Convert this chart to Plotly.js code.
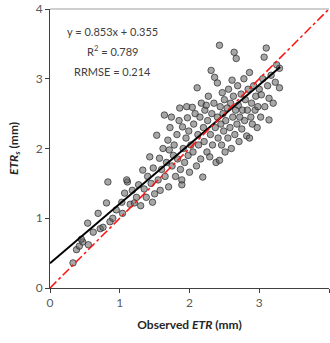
<!DOCTYPE html>
<html><head><meta charset="utf-8">
<script src="https://cdn.plot.ly/plotly-3.0.1.min.js"></script>
<style>html,body{margin:0;padding:0;background:#fff}#chart{width:330px;height:343px}</style>
</head><body><div id="chart"></div>
<script>
const obsX = [0.33,0.38,0.42,0.47,0.45,0.55,0.54,0.62,0.69,0.72,0.76,0.81,0.83,0.86,0.90,0.95,
1.03,1.04,1.07,1.11,1.10,1.15,1.18,1.21,1.24,1.27,1.30,1.33,1.35,1.38,1.40,1.43,1.45,1.47,1.48,1.50,
1.53,1.55,1.57,1.58,1.60,1.62,1.64,1.65,1.67,1.69,1.70,1.71,1.72,1.74,1.75,1.77,1.78,1.80,1.82,1.83,1.85,1.86,1.87,1.89,1.89,1.90,1.91,1.93,1.95,1.96,1.97,1.98,1.99,
2.00,2.02,2.04,2.05,2.06,2.08,2.10,2.11,2.12,2.13,2.15,2.16,2.17,2.19,2.20,2.21,2.22,2.24,2.25,2.26,2.27,2.29,2.30,2.31,2.32,2.33,2.35,2.36,2.37,2.38,2.40,2.40,2.41,2.43,2.43,2.44,2.45,2.46,2.47,2.48,2.49,
2.50,2.51,2.52,2.54,2.55,2.56,2.58,2.59,2.60,2.61,2.62,2.63,2.64,2.65,2.66,2.67,2.68,2.69,2.70,2.71,2.72,2.74,2.75,2.76,2.78,2.79,2.80,2.82,2.83,2.84,2.86,2.86,2.88,2.89,2.90,2.92,2.94,2.95,2.97,2.98,
3.00,3.02,3.03,3.05,3.07,3.08,3.10,3.12,3.14,3.14,3.17,3.20,3.23,3.25,3.29,3.29];
const estY = [0.36,0.55,0.60,0.66,0.70,0.62,0.93,0.80,1.07,0.85,0.87,1.22,1.52,0.95,1.00,1.12,
1.23,1.07,1.36,1.52,1.55,1.20,1.40,1.22,1.30,1.48,1.18,1.69,1.42,1.30,1.60,1.88,1.50,1.23,1.72,1.35,
2.19,1.55,1.86,1.40,1.70,2.00,2.48,1.60,1.80,2.12,1.45,1.98,2.30,2.45,1.75,1.90,2.05,1.60,2.20,1.85,2.40,2.58,1.70,1.48,1.55,2.31,2.00,1.80,2.15,2.60,2.44,1.90,2.25,
1.66,2.05,2.59,1.95,2.35,2.50,1.75,2.87,2.20,2.05,2.45,1.85,2.65,1.59,2.30,2.10,2.55,2.62,1.95,2.40,2.75,1.88,2.20,3.12,2.50,2.05,2.65,3.02,2.30,1.80,2.94,2.45,2.15,3.48,1.83,2.60,2.35,2.05,2.80,2.50,2.25,
2.70,1.95,2.40,2.58,2.15,2.85,2.30,2.65,2.00,2.98,2.45,2.75,3.38,2.20,2.55,3.29,2.35,2.90,2.62,2.10,2.45,2.78,2.28,2.55,3.00,2.40,2.70,2.18,2.55,2.85,2.15,3.09,2.45,2.65,2.35,2.90,2.55,2.75,2.30,2.60,
2.85,2.45,2.77,3.00,3.31,2.60,3.44,2.90,2.41,2.72,3.05,2.65,2.95,3.20,3.15,2.87];
const fitX = [0, 3.3];
const fitY = [0.355, 3.17];
const oneX = [0, 4];
const oneY = [0, 4];
const ticks = [0, 1, 2, 3, 4];
const statLines = ['y = 0.853x + 0.355', 'R<sup>2</sup> = 0.789', 'RRMSE = 0.214'];
const statY = [3.68, 3.40, 3.11];

const FONT = 'Lato, "Open Sans", sans-serif';
const traces = [
  {x: obsX, y: estY, mode: 'markers', type: 'scatter',
   marker: {size: 6.5, color: 'rgba(95,95,95,0.55)', line: {color: 'rgba(40,40,40,0.7)', width: 1}}},
  {x: fitX, y: fitY, mode: 'lines', type: 'scatter', line: {color: '#000', width: 2}},
  {x: oneX, y: oneY, mode: 'lines', type: 'scatter', line: {color: '#ff1010', width: 1.5, dash: 'dashdot'}}
];
const annotations = statLines.map((t, i) => ({
  x: 0.9, y: statY[i], xref: 'x', yref: 'y', text: t, showarrow: false,
  font: {family: FONT, size: 11, color: '#404040'}, xanchor: 'center', yanchor: 'middle'
}));
const layout = {
  width: 330, height: 343, showlegend: false,
  margin: {l: 50, r: 1, t: 9, b: 55},
  paper_bgcolor: '#fff', plot_bgcolor: '#fff',
  font: {family: FONT, color: '#595959', size: 12},
  xaxis: {range: [0, 4], tickvals: ticks, ticktext: ticks.map(String), showgrid: false, zeroline: false,
    showline: true, linecolor: '#404040', linewidth: 1, ticks: 'outside', ticklen: 4, tickcolor: '#404040',
    tickfont: {size: 12, color: '#595959'},
    title: {text: '<b>Observed <i>ETR</i> (mm)</b>', font: {size: 12, color: '#262626'}, standoff: 11}},
  yaxis: {range: [0, 4], tickvals: ticks, ticktext: ticks.map(String), showgrid: false, zeroline: false,
    showline: true, linecolor: '#404040', linewidth: 1, ticks: 'outside', ticklen: 4, tickcolor: '#404040',
    tickfont: {size: 12, color: '#595959'},
    title: {text: '<b><i>ETR<sub>s</sub></i> (mm)</b>', font: {size: 12, color: '#262626'}, standoff: 14}},
  shapes: [{type: 'line', xref: 'paper', yref: 'paper', x0: 0, x1: 1, y0: 1, y1: 1, line: {color: '#bfbfbf', width: 1.5}}],
  annotations: annotations
};
Plotly.newPlot('chart', traces, layout, {displayModeBar: false, staticPlot: true});
</script></body></html>
